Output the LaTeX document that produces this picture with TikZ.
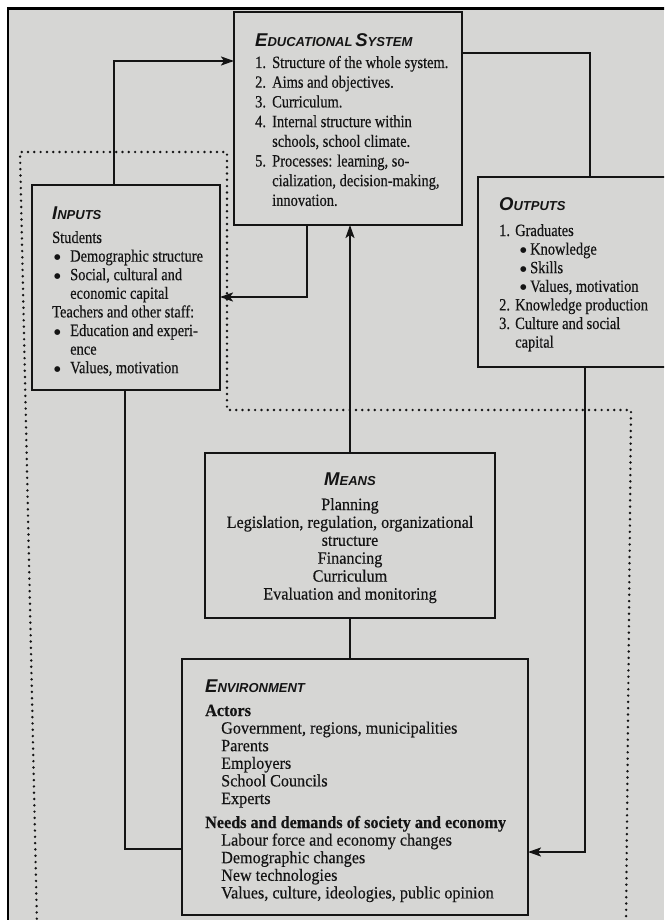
\documentclass[tikz,border=0pt]{standalone}
\usepackage{fontspec}
\setmainfont{Liberation Serif}
\newfontfamily\condrm[FakeStretch=0.84,FakeBold=0.35]{Liberation Serif}
\newfontfamily\widerm[FakeStretch=0.94,FakeBold=0.35]{Liberation Serif}
\newfontfamily\ttlsans{Liberation Sans}
\newfontfamily\bulfont{DejaVu Sans}
\usetikzlibrary{arrows.meta}
\definecolor{paper}{RGB}{214,214,212}
\definecolor{ink}{RGB}{20,20,20}
\newcommand\ttlbig[1]{{\fontsize{18.5}{20}\selectfont #1}}
\newcommand\ttlsmall[1]{{\fontsize{13}{14}\selectfont #1}}
\newcommand\bigbul{\raisebox{2pt}{\bulfont\fontsize{7.5}{8}\selectfont ●}}
\tikzset{
  box/.style={draw=ink, line width=2.2pt, inner sep=0pt, outer sep=0pt, rectangle},
  conn/.style={draw=ink, line width=2pt},
  arr/.style={-{Stealth[length=13pt,width=9pt,inset=3pt]}},
  ttl/.style={inner sep=0pt, text=ink, font=\ttlsans\bfseries\itshape},
  txt/.style={inner sep=0pt, text=ink},
  dotline/.style={draw=ink, line width=2.7pt, line cap=round, dash pattern=on 0pt off 6.3pt}
}
\begin{document}
\begin{tikzpicture}[x=1pt,y=-1pt]
\useasboundingbox (0,0) rectangle (664,920);
\clip (0,0) rectangle (664,920);
% photo page
\fill[white] (0,0) rectangle (664,920);
\fill[paper] (8,8.5) rectangle (664,920);
\draw[black, line width=2.5pt] (8,930) -- (8,8.5) -- (672,8.5);
% dotted boundary
\draw[dotline] (37,925) -- (20,152) -- (227,152) -- (227,410) -- (631,410) -- (626,925);
% boxes
\node[box, minimum width=228pt, minimum height=213pt] (edsys) at (348,118.5) {};
\node[box, minimum width=188pt, minimum height=205pt] (inputs) at (126,287.5) {};
\node[box, minimum width=194pt, minimum height=190pt] (outputs) at (575,272) {};
\node[box, minimum width=290pt, minimum height=165pt] (means) at (350,535.5) {};
\node[box, minimum width=346pt, minimum height=256pt] (env) at (355,787) {};
% texts: educational system
\node[ttl, anchor=base west] (edsysT) at (255,46.5) {\ttlbig{E}\ttlsmall{DUCATIONAL} \ttlbig{S}\ttlsmall{YSTEM}};
\node[txt, anchor=base west] (edsysL) at (255,68) {\parbox[t]{200pt}{\condrm\fontsize{17.2}{19.7}\selectfont
\makebox[17pt][l]{1.}Structure of the whole system.\\
\makebox[17pt][l]{2.}Aims and objectives.\\
\makebox[17pt][l]{3.}Curriculum.\\
\makebox[17pt][l]{4.}Internal structure within\\
\hspace*{17pt}schools, school climate.\\
\makebox[17pt][l]{5.}Processes: learning, so-\\
\hspace*{17pt}cialization, decision-making,\\
\hspace*{17pt}innovation.}};
% inputs
\node[ttl, anchor=base west] (inputsT) at (52,219) {\ttlbig{I}\ttlsmall{NPUTS}};
\node[txt, anchor=base west] (inputsL) at (52,243) {\parbox[t]{160pt}{\condrm\fontsize{17.2}{18.6}\selectfont
Students\\
\makebox[18pt][l]{\hspace{2pt}\bigbul}Demographic structure\\
\makebox[18pt][l]{\hspace{2pt}\bigbul}Social, cultural and\\
\hspace*{18pt}economic capital\\
Teachers and other staff:\\
\makebox[18pt][l]{\hspace{2pt}\bigbul}Education and experi-\\
\hspace*{18pt}ence\\
\makebox[18pt][l]{\hspace{2pt}\bigbul}Values, motivation}};
% outputs
\node[ttl, anchor=base west] (outputsT) at (499,210) {\ttlbig{O}\ttlsmall{UTPUTS}};
\node[txt, anchor=base west] (outputsL) at (499,236) {\parbox[t]{160pt}{\condrm\fontsize{17.2}{18.6}\selectfont
\makebox[16pt][l]{1.}Graduates\\
\hspace*{21pt}\makebox[10pt][l]{\bigbul}Knowledge\\
\hspace*{21pt}\makebox[10pt][l]{\bigbul}Skills\\
\hspace*{21pt}\makebox[10pt][l]{\bigbul}Values, motivation\\
\makebox[16pt][l]{2.}Knowledge production\\
\makebox[16pt][l]{3.}Culture and social\\
\hspace*{16pt}capital}};
% means
\node[ttl, anchor=base] (meansT) at (350,485) {\ttlbig{M}\ttlsmall{EANS}};
\node[txt, anchor=base] (meansL) at (350,510) {\parbox[t]{280pt}{\centering\widerm\fontsize{17.2}{17.9}\selectfont
Planning\\
Legislation, regulation, organizational\\
structure\\
Financing\\
Curriculum\\
Evaluation and monitoring}};
% environment
\node[ttl, anchor=base west] (envT) at (205,692) {\ttlbig{E}\ttlsmall{NVIRONMENT}};
\node[txt, anchor=base west] (envL) at (205,716) {\parbox[t]{315pt}{\widerm\fontsize{17.2}{17.6}\selectfont
\textbf{Actors}\\
\hspace*{16pt}Government, regions, municipalities\\
\hspace*{16pt}Parents\\
\hspace*{16pt}Employers\\
\hspace*{16pt}School Councils\\
\hspace*{16pt}Experts\\[6.4pt]
\textbf{Needs and demands of society and economy}\\
\hspace*{16pt}Labour force and economy changes\\
\hspace*{16pt}Demographic changes\\
\hspace*{16pt}New technologies\\
\hspace*{16pt}Values, culture, ideologies, public opinion}};
% connectors
\coordinate (k1) at (114,61);
\coordinate (k2) at (590,53);
\coordinate (k3) at (307,297);
\coordinate (k4) at (125,849);
\coordinate (k5) at (585,852);
\draw[conn,arr] (k1 |- inputs.north) -- (k1) -- (k1 -| edsys.west);
\draw[conn] (k2 -| edsys.east) -- (k2) -- (k2 |- outputs.north);
\draw[conn,arr] (k3 |- edsys.south) -- (k3) -- (k3 -| inputs.east);
\draw[conn,arr] (means.north) -- (means.north |- edsys.south);
\draw[conn] (means.south) -- (means.south |- env.north);
\draw[conn] (k4 |- inputs.south) -- (k4) -- (k4 -| env.west);
\draw[conn,arr] (k5 |- outputs.south) -- (k5) -- (k5 -| env.east);
\end{tikzpicture}
\end{document}
